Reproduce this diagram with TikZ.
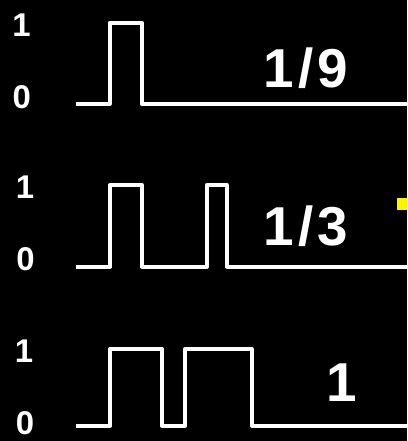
\documentclass[tikz,border=0pt]{standalone}
\usepackage{fontspec}
\setmainfont{Liberation Sans}
\begin{document}
\begin{tikzpicture}[x=1bp,y=-1bp,
  wave/.style={draw=white,line width=4bp,line join=round,line cap=butt},
  lvl/.style={text=white,font=\bfseries\fontsize{33}{33}\selectfont,inner sep=0pt},
  ratio/.style={text=white,font=\bfseries\fontsize{55}{55}\selectfont,inner sep=0pt}]
\fill[black] (0,0) rectangle (407,441);
\useasboundingbox (0,0) rectangle (407,441);
% row 1
\node[lvl] (a1) at (21.5,25) {1};
\node[lvl] (a0) at (21.7,97.5) {0};
\draw[wave] (76,104) -- (109.5,104) -- (109.5,22.7) -- (141.7,22.7) -- (141.7,104) -- (407,104);
\node[ratio] (r1) at (306,68) {1\kern4bp/\kern4bp9};
% row 2
\node[lvl] (b1) at (25,187.5) {1};
\node[lvl] (b0) at (25.5,259.5) {0};
\draw[wave] (76,266.5) -- (110,266.5) -- (110,185) -- (141.7,185) -- (141.7,266.5)
  -- (206.7,266.5) -- (206.7,185) -- (226.7,185) -- (226.7,266.5) -- (407,266.5);
\node[ratio] (r2) at (306,226) {1\kern4bp/\kern4bp3};
\fill[yellow] (397,198.5) rectangle (407,209.5);
% row 3
\node[lvl] (c1) at (24,351.5) {1};
\node[lvl] (c0) at (25,423.5) {0};
\draw[wave] (76,425.5) -- (110,425.5) -- (110,349) -- (162,349) -- (162,425.5)
  -- (185,425.5) -- (185,349) -- (251.7,349) -- (251.7,425.5) -- (407,425.5);
\node[ratio] (r3) at (341.5,382.5) {1};
\end{tikzpicture}
\end{document}
